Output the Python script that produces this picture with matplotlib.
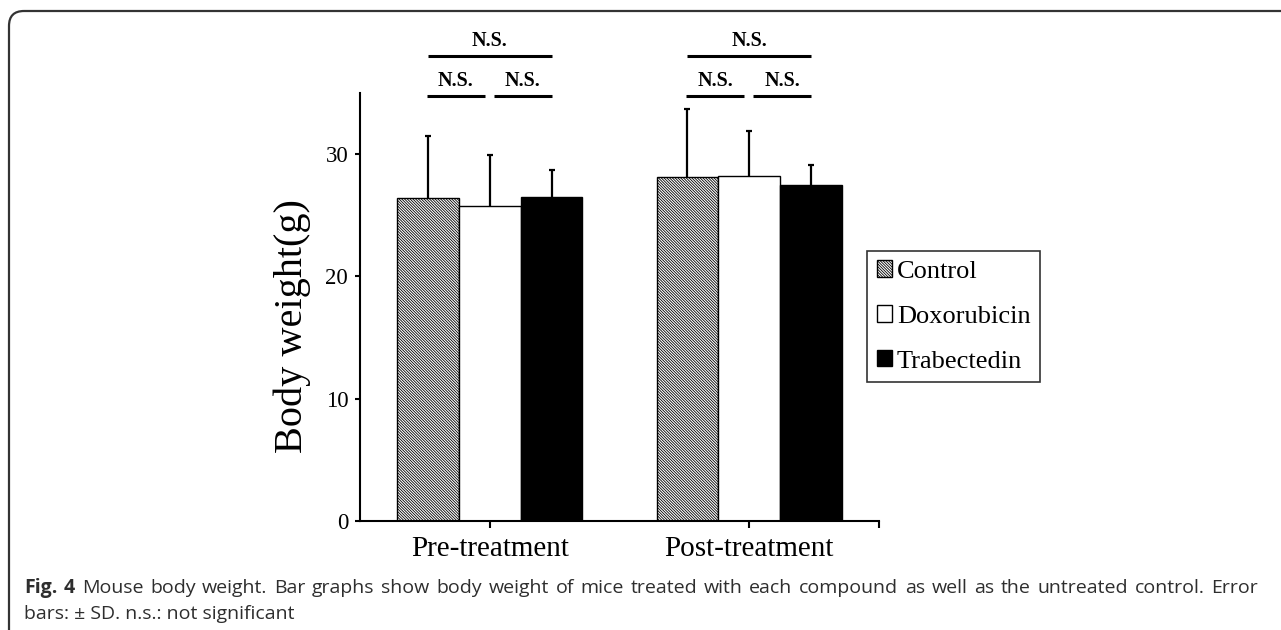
import numpy as np
import matplotlib.pyplot as plt
from matplotlib.path import Path
from matplotlib.patches import PathPatch, Patch

# data
groups = ['Pre-treatment', 'Post-treatment']
treatments = ['Control', 'Doxorubicin', 'Trabectedin']
control_mean = [26.4, 28.1]
control_sd = [5.1, 5.6]
doxo_mean = [25.8, 28.2]
doxo_sd = [4.1, 3.7]
trab_mean = [26.5, 27.5]
trab_sd = [2.2, 1.6]
ytick_vals = [0, 10, 20, 30]
sig_label = 'N.S.'

caption_bold = ['Fig.', '4']
caption_line1 = 'Mouse body weight. Bar graphs show body weight of mice treated with each compound as well as the untreated control. Error'
caption_line2 = 'bars: ± SD. n.s.: not significant'

means = [control_mean, doxo_mean, trab_mean]
sds = [control_sd, doxo_sd, trab_sd]

plt.rcParams['font.family'] = ['Liberation Serif', 'DejaVu Serif']
plt.rcParams['hatch.linewidth'] = 0.6

W, H = 1281, 630
fig = plt.figure(figsize=(W / 100, H / 100), dpi=100)
ax = fig.add_axes([360 / W, 1 - 521 / H, 519 / W, 428 / H])

hatch_ctrl = '\\' * 12
styles = [dict(facecolor='white', hatch=hatch_ctrl),
          dict(facecolor='white'),
          dict(facecolor='black')]

x = np.arange(len(groups))
w = 0.238
for i, (m, s, st, lab) in enumerate(zip(means, sds, styles, treatments)):
    pos = x + (i - 1) * w
    ax.bar(pos, m, w, edgecolor='black', linewidth=1.0, label=lab, zorder=2, **st)
    # symmetric bar drawn behind the bars, so only the upper half shows
    ax.errorbar(pos, m, yerr=s, fmt='none', ecolor='black',
                elinewidth=1.6, capsize=2.2, capthick=1.6, zorder=1)

# significance brackets above each group
for g in x:
    c = g + (np.arange(3) - 1) * w
    ax.plot([c[0], c[2]], [38.0, 38.0], color='black', lw=2.2, clip_on=False,
            solid_capstyle='butt')
    ax.text(g, 38.85, sig_label, ha='center', va='baseline', fontsize=14.5,
            fontweight='bold')
    for a, b in [(c[0] - 0.004, c[1] - 0.02), (c[1] + 0.016, c[2])]:
        ax.plot([a, b], [34.75, 34.75], color='black', lw=2.2, clip_on=False,
                solid_capstyle='butt')
        ax.text((a + b) / 2, 35.55, sig_label, ha='center', va='baseline',
                fontsize=14.5, fontweight='bold')

ax.set_xlim(-0.5, 1.5)
ax.set_ylim(0, 35)
ax.set_xticks(list(x) + [1.5])
ax.set_xticklabels(groups + [''])
ax.set_yticks(ytick_vals)
ax.tick_params(axis='y', direction='out', length=3.5, width=1.5, labelsize=16.5, pad=5)
ax.tick_params(axis='x', direction='out', length=5, width=1.5, labelsize=21, pad=6)
for side in ['top', 'right']:
    ax.spines[side].set_visible(False)
for side in ['left', 'bottom']:
    ax.spines[side].set_linewidth(1.5)

fig.text(292 / W, 1 - 326 / H, 'Body weight(g)', rotation=90, ha='center',
         va='center', fontsize=29)

handles = [Patch(edgecolor='black', label=lab, **st) for lab, st in zip(treatments, styles)]
leg = fig.legend(handles=handles, loc='upper left', bbox_to_anchor=(867 / W, 1 - 251 / H),
                 bbox_transform=fig.transFigure, frameon=True, fancybox=False,
                 edgecolor='black', fontsize=19, handlelength=0.57, handleheight=0.57,
                 handletextpad=0.2, labelspacing=0.85, borderpad=0.36, borderaxespad=0)
leg.get_frame().set_linewidth(1.2)

# rounded frame around the figure panel
r = 15
verts = [(9 / W, 0), (9 / W, (H - 11 - r) / H), (9 / W, (H - 11) / H),
         ((9 + r) / W, (H - 11) / H), (1, (H - 11) / H)]
codes = [Path.MOVETO, Path.LINETO, Path.CURVE3, Path.CURVE3, Path.LINETO]
fig.add_artist(PathPatch(Path(verts, codes), transform=fig.transFigure, fill=False,
                         lw=1.6, edgecolor='#333333'))

# caption, first line justified
cap_color = '#2e2e2e'
cap_size = 14
pieces = [(wd, 'bold') for wd in caption_bold] + [(wd, 'normal') for wd in caption_line1.split()]
texts = [fig.text(0, 1 - 593 / H, wd, fontsize=cap_size, fontweight=wt, family='Open Sans',
                  color=cap_color, va='baseline') for wd, wt in pieces]
renderer = fig.canvas.get_renderer()
widths = [t.get_window_extent(renderer).width for t in texts]
x0, x1 = 24, 1258
gap = ((x1 - x0) - sum(widths)) / (len(texts) - 1)
xp = x0
for t, wd in zip(texts, widths):
    t.set_x(xp / W)
    xp += wd + gap
fig.text(x0 / W, 1 - 619 / H, caption_line2, fontsize=cap_size, family='Open Sans',
         color=cap_color, va='baseline')

fig.savefig('out.png', dpi=100)
